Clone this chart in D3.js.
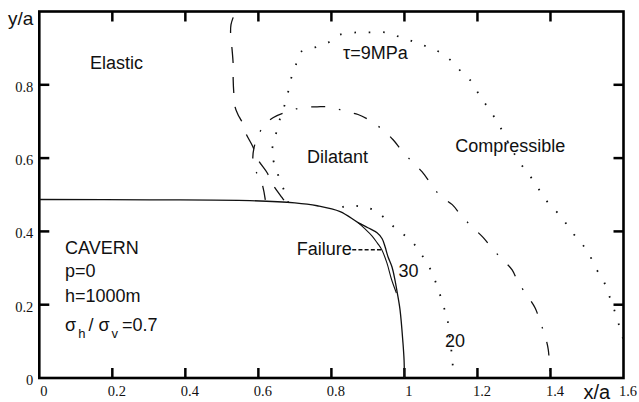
<!DOCTYPE html>
<html><head><meta charset="utf-8">
<script src="https://cdn.jsdelivr.net/npm/d3@7/dist/d3.min.js"></script>
<style>body{margin:0;background:#fff}svg{display:block}</style>
</head><body>
<svg id="chart" width="639" height="402"></svg>
<script>
// ---- data (x/a, y/a) ----
const xTicks = [0, 0.2, 0.4, 0.6, 0.8, 1.0, 1.2, 1.4, 1.6];
const xTickLabels = ["0", "0.2", "0.4", "0.6", "0.8", "1", "1.2", "1.4", "1.6"];
const yTicks = [0, 0.2, 0.4, 0.6, 0.8];
const yTickLabels = ["0", "0.2", "0.4", "0.6", "0.8"];
const innerTicksX = [0.2, 0.4, 0.6, 0.8, 1.0, 1.2, 1.4];
const innerTicksY = [0.2, 0.4, 0.6, 0.8];

// cavern wall (solid)
const cavern = [[0,0.487],[0.303,0.486],[0.577,0.484],[0.70,0.478],[0.761,0.470],[0.824,0.454],
  [0.873,0.424],[0.900,0.410],[0.925,0.396],[0.939,0.380],[0.947,0.358],[0.955,0.331],[0.966,0.303],
  [0.974,0.268],[0.980,0.235],[0.988,0.186],[0.996,0.096],[0.999,0.049],[1.0,0]];
// failure zone boundary (solid, inner branch)
const failure = [[0.873,0.424],[0.892,0.407],[0.911,0.388],[0.926,0.368],[0.938,0.350],
  [0.952,0.314],[0.965,0.268],[0.978,0.232]];
// tau = 20 MPa contour (dotted)
const tau20 = [[0.83,0.466],[0.846,0.470],[0.887,0.467],[0.925,0.454],[0.955,0.426],[0.988,0.399],
  [1.021,0.372],[1.043,0.342],[1.065,0.309],[1.081,0.273],[1.095,0.235],[1.106,0.199],
  [1.117,0.164],[1.125,0.104],[1.132,0.041],[1.133,0]];
// tau = 9 MPa contour (dotted)
const tau9 = [[0.682,0.478],[0.673,0.505],[0.659,0.541],[0.646,0.577],[0.637,0.617],[0.646,0.656],
  [0.654,0.691],[0.665,0.724],[0.679,0.768],[0.687,0.809],[0.701,0.847],[0.714,0.888],[0.755,0.902],
  [0.791,0.915],[0.824,0.937],[0.870,0.943],[0.906,0.943],[0.947,0.943],[0.983,0.932],[1.024,0.918],
  [1.062,0.904],[1.098,0.888],[1.131,0.863],[1.158,0.833],[1.186,0.806],[1.207,0.768],[1.229,0.738],
  [1.254,0.699],[1.271,0.669],[1.290,0.631],[1.311,0.596],[1.334,0.563],[1.358,0.533],[1.380,0.495],
  [1.404,0.467],[1.432,0.437],[1.454,0.404],[1.481,0.372],[1.504,0.342],[1.522,0.303],[1.544,0.268],
  [1.558,0.232],[1.572,0.194],[1.585,0.153],[1.596,0.117],[1.606,0.085]];
// dilatant / compressible boundary (dash-dot)
const dilatancy = [[0.619,0.486],[0.610,0.530],[0.594,0.563],[0.585,0.596],[0.588,0.628],[0.599,0.661],
  [0.616,0.689],[0.640,0.710],[0.681,0.727],[0.720,0.738],[0.761,0.740],[0.802,0.739],[0.838,0.727],
  [0.873,0.719],[0.911,0.699],[0.947,0.672],[0.969,0.650],[0.996,0.617],[1.024,0.587],[1.048,0.563],
  [1.078,0.522],[1.100,0.495],[1.131,0.473],[1.158,0.440],[1.188,0.410],[1.216,0.383],[1.243,0.350],
  [1.270,0.322],[1.295,0.295],[1.311,0.262],[1.339,0.221],[1.358,0.191],[1.372,0.153],[1.386,0.112],
  [1.394,0.077],[1.399,0]];
// elastic limit (long dash)
const elastic = [[0.531,0.984],[0.525,0.964],[0.524,0.937],[0.528,0.896],[0.531,0.855],[0.531,0.814],
  [0.533,0.773],[0.536,0.740],[0.544,0.719],[0.555,0.699],[0.566,0.667],[0.585,0.631],[0.599,0.596],
  [0.624,0.560],[0.640,0.527],[0.665,0.492],[0.673,0.481]];
// failure leader line
const leader = [[0.857,0.350],[0.938,0.350]];

// annotations: [text, x, y]
const regionLabels = [["Elastic",0.139,0.842],["\u03C4=9MPa",0.832,0.870],["Dilatant",0.733,0.587],
  ["Compressible",1.139,0.618],["Failure",0.705,0.336],["30",0.984,0.275],["20",1.111,0.0855]];
const caseLabels = [["CAVERN",0.0705,0.338],["p=0",0.0705,0.275],["h=1000m",0.0705,0.208]];
const ratioLabel = {x:0.0705, y:0.127, value:"=0.7"};

// ---- drawing ----
const W = 639, H = 402;
const m = {l:39.3, r:639-623.5, t:11.5, b:402-378};
const svg = d3.select("#chart");
const x = d3.scaleLinear().domain([0,1.6]).range([m.l, W-m.r]);
const y = d3.scaleLinear().domain([0,1]).range([H-m.b, m.t]);
const ink = "#111111";
const frameInk = "#000000";
const TL = 10;

svg.append("defs").append("clipPath").attr("id","clip")
  .append("rect").attr("x",x(0)).attr("y",y(1)).attr("width",x(1.6)-x(0)).attr("height",y(0)-y(1));

// inward ticks on all four sides
const ticks = svg.append("g").attr("stroke",frameInk).attr("stroke-width",2.5);
ticks.selectAll("line.b").data(innerTicksX).enter().append("line").attr("class","b")
  .attr("x1",d=>x(d)).attr("x2",d=>x(d)).attr("y1",y(0)).attr("y2",y(0)-TL);
ticks.selectAll("line.t").data(innerTicksX).enter().append("line").attr("class","t")
  .attr("x1",d=>x(d)).attr("x2",d=>x(d)).attr("y1",y(1)).attr("y2",y(1)+TL);
ticks.selectAll("line.l").data(innerTicksY).enter().append("line").attr("class","l")
  .attr("y1",d=>y(d)).attr("y2",d=>y(d)).attr("x1",x(0)).attr("x2",x(0)+TL);
ticks.selectAll("line.r").data(innerTicksY).enter().append("line").attr("class","r")
  .attr("y1",d=>y(d)).attr("y2",d=>y(d)).attr("x1",x(1.6)).attr("x2",x(1.6)-TL);

// frame
svg.append("rect").attr("x",x(0)).attr("y",y(1)).attr("width",x(1.6)-x(0)).attr("height",y(0)-y(1))
  .attr("fill","none").attr("stroke",frameInk).attr("stroke-width",2.6);

// curves
const line = d3.line().x(d=>x(d[0])).y(d=>y(d[1])).curve(d3.curveCatmullRom.alpha(0.5));
const plot = svg.append("g").attr("clip-path","url(#clip)");
const curves = [
  {d:cavern, dash:null, w:1.3},
  {d:failure, dash:null, w:1.1},
  {d:tau20, dash:"1.6,12.6", w:1.8},
  {d:tau9, dash:"1.6,12.8", w:1.8},
  {d:dilatancy, dash:"14,14,1.6,14", w:1.3},
  {d:elastic, dash:"16,14", w:1.3}
];
curves.forEach(c=>{
  plot.append("path").attr("d",line(c.d)).attr("fill","none").attr("stroke",ink)
    .attr("stroke-width",c.w).attr("stroke-dasharray",c.dash);
});
plot.append("path").attr("d",d3.line().x(d=>x(d[0])).y(d=>y(d[1]))(leader))
  .attr("fill","none").attr("stroke",ink).attr("stroke-width",1.3).attr("stroke-dasharray","4,2.2");

// tick labels via axes
const fmtX = d => xTickLabels[xTicks.indexOf(d)];
const fmtY = d => yTickLabels[yTicks.indexOf(d)];
const bottom = svg.append("g").attr("transform",`translate(0,${y(0)})`)
  .call(d3.axisBottom(x).tickValues(xTicks).tickSize(0).tickPadding(8).tickFormat(fmtX));
const left = svg.append("g").attr("transform",`translate(${x(0)},0)`)
  .call(d3.axisLeft(y).tickValues(yTicks).tickSize(0).tickPadding(6).tickFormat(fmtY));
[bottom,left].forEach(g=>{g.select(".domain").remove(); g.selectAll("line").remove();
  g.selectAll("text").attr("font-family","'Liberation Serif','Times New Roman',serif")
   .attr("font-size",14.5).attr("fill",ink);});
bottom.selectAll("text").attr("x",4);
left.selectAll("text").attr("dy","0.45em");

// labels
const sans = "'Liberation Sans',Arial,Helvetica,sans-serif";
svg.selectAll("text.reg").data(regionLabels.concat(caseLabels)).enter().append("text")
  .attr("class","reg").attr("x",d=>x(d[1])).attr("y",d=>y(d[2])).text(d=>d[0])
  .attr("font-family",sans).attr("font-size",18).attr("fill",ink);

const rt = svg.append("text").attr("x",x(ratioLabel.x)).attr("y",y(ratioLabel.y))
  .attr("font-family",sans).attr("font-size",18).attr("fill",ink);
rt.append("tspan").text("\u03C3");
rt.append("tspan").attr("dx",2).attr("dy",7).attr("font-size",13).text("h");
rt.append("tspan").attr("dx",3).attr("dy",-7).text("/");
rt.append("tspan").attr("dx",5).text("\u03C3");
rt.append("tspan").attr("dx",2).attr("dy",7).attr("font-size",13).text("v");
rt.append("tspan").attr("dx",4).attr("dy",-7).text(ratioLabel.value);

// axis titles
svg.append("text").attr("x",8).attr("y",y(1)+13).text("y/a")
  .attr("font-family",sans).attr("font-size",19).attr("fill",ink);
svg.append("text").attr("x",x(1.6)-40).attr("y",H-3).text("x/a")
  .attr("font-family",sans).attr("font-size",20).attr("fill",ink);
</script>
</body></html>
